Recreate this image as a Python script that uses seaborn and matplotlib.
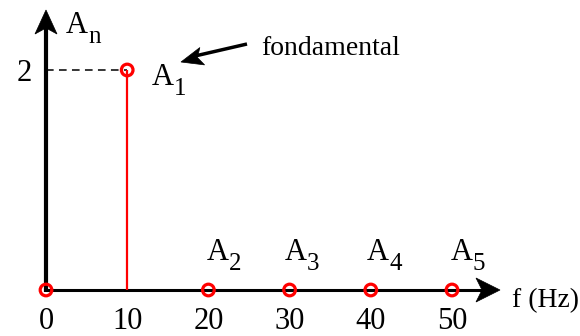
import matplotlib
matplotlib.use("Agg")
import matplotlib.pyplot as plt
import seaborn as sns
import pandas as pd
import numpy as np
from matplotlib.patches import Polygon
from matplotlib.lines import Line2D

# ---- data ----
freqs = [0, 10, 20, 30, 40, 50]
amps = [0, 2, 0, 0, 0, 0]
harmonic_names = ["A", "A", "A", "A"]
harmonic_subs = ["2", "3", "4", "5"]
xtick_labels = ["0", "10", "20", "30", "40", "50"]
ytick_values = [2]
ytick_labels = ["2"]

sns.set_style("white")
plt.rcParams["font.family"] = ["Liberation Serif", "DejaVu Serif"]
plt.rcParams["text.color"] = "black"
plt.rcParams["xtick.color"] = "black"
plt.rcParams["ytick.color"] = "black"

W, H = 580, 336
fig = plt.figure(figsize=(W / 100, H / 100), dpi=100)
x0, y0, xt, yt = 46, 290, 500, 10
ax = fig.add_axes([x0 / W, (H - y0) / H, (xt - x0) / W, (y0 - yt) / H])
ax.set_facecolor("none")
for s in ax.spines.values():
    s.set_visible(False)

def F(x, y):
    return (x / W, 1 - y / H)

def head(tip, tail, L, hw, notch):
    d = np.array([tip[0] - tail[0], tip[1] - tail[1]], float)
    d /= np.hypot(*d)
    n = np.array([-d[1], d[0]])
    t = np.array(tip, float)
    pts = [t, t - L * d + hw * n, t - (L - notch) * d, t - L * d - hw * n]
    poly = Polygon([F(*p) for p in pts], closed=True, facecolor="black",
                   edgecolor="black", linewidth=0.5, transform=fig.transFigure,
                   zorder=2, clip_on=False)
    ax.add_patch(poly)

def line(p1, p2, lw):
    (a, b), (c, d) = F(*p1), F(*p2)
    ln = Line2D([a, c], [b, d], color="black", linewidth=lw,
                transform=fig.transFigure, zorder=1, clip_on=False,
                solid_capstyle="butt")
    ax.add_line(ln)

# axes with arrows
line((x0, y0 + 1.5), (x0, yt + 15), 3.0)
head((x0, yt), (x0, y0), 24, 11, 6)
line((x0, y0), (xt - 15, y0), 2.2)
head((xt, y0), (x0, y0), 24, 12, 6)

# dashed guide
ax.plot([0, freqs[1]], [amps[1], amps[1]], color="black", linestyle=(0, (5, 3.5)),
        linewidth=1.1, zorder=2, clip_on=False)

# stems
ax.vlines(freqs, 0, amps, color="#ff0000", linewidth=1.6, zorder=2)

df = pd.DataFrame({"f": freqs, "A": amps})
sns.scatterplot(data=df, x="f", y="A", ax=ax, marker="o", s=70,
                facecolor="none", edgecolor="#ff0000", linewidth=2.3,
                zorder=4, clip_on=False, legend=False)

ax.set_xlim(0, (xt - x0) / 8.12)
ax.set_ylim(0, (y0 - yt) / 110)
ax.set_xticks(freqs)
ax.set_xticklabels(xtick_labels)
ax.set_yticks(ytick_values)
ax.set_yticklabels(ytick_labels)
ax.tick_params(axis="x", length=0, labelsize=22, pad=12)
ax.tick_params(axis="y", length=0, labelsize=22, pad=10)
ax.set_xlabel("")
ax.set_ylabel("")

def txt(x, y, s, size=22):
    ax.text(*F(x, y), s, transform=fig.transFigure, fontsize=size,
            ha="left", va="baseline", color="black")

def sub_label(x, y, main, sub):
    txt(x, y, main, 22)
    txt(x + 22, y + 10, sub, 18)

sub_label(66, 33, "A", "n")
sub_label(152, 85, "A", "1")
for xp, a, b in zip([207, 285, 367, 451], harmonic_names, harmonic_subs):
    sub_label(xp, 260, a, b)
txt(261, 55, "fondamental", 20)
txt(512, 307, "f (Hz)", 20)

# fondamental arrow
line((247, 44), (195, 56), 2.5)
head((181, 62), (247, 44), 22, 9, 5)

fig.savefig("out.png", dpi=100)
